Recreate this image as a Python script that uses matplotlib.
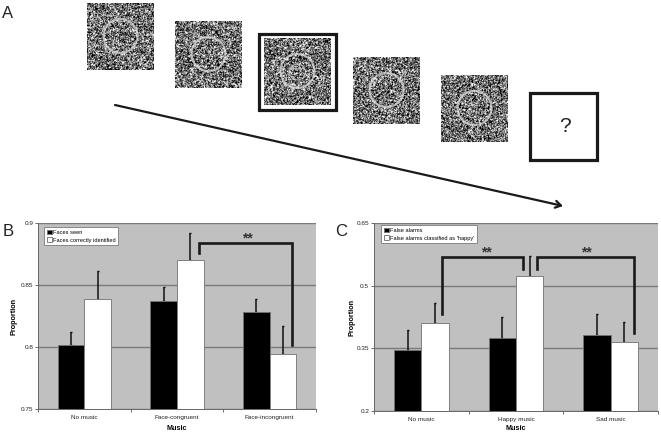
import numpy as np
import matplotlib
matplotlib.use('Agg')
import matplotlib.pyplot as plt
from matplotlib.patches import Circle, Rectangle

plt.rcParams['font.family'] = ['Liberation Sans', 'DejaVu Sans']

W, H = 661, 433

# panel B
b_cats = ['No music', 'Face-congruent', 'Face-incongruent']
b_seen = [0.802, 0.8374, 0.828]
b_seen_err = [0.0105, 0.0106, 0.0105]
b_correct = [0.839, 0.870, 0.794]
b_correct_err = [0.022, 0.022, 0.0226]
b_ticks = [0.75, 0.8, 0.85, 0.9]
b_ticklabels = ['0.75', '0.8', '0.85', '0.9']
b_legend = ['Faces seen', 'Faces correctly identified']

# panel C
c_cats = ['No music', 'Happy music', 'Sad music']
c_false = [0.345, 0.375, 0.381]
c_false_err = [0.0495, 0.050, 0.051]
c_happy = [0.411, 0.523, 0.364]
c_happy_err = [0.048, 0.048, 0.048]
c_ticks = [0.2, 0.35, 0.5, 0.65]
c_ticklabels = ['0.2', '0.35', '0.5', '0.65']
c_legend = ['False alarms', "False alarms classified as 'happy'"]


def px_axes(x0, y0, x1, y1, **kw):
    # axes placed by pixel box, y counted from the top
    return fig.add_axes([x0 / W, 1 - y1 / H, (x1 - x0) / W, (y1 - y0) / H], **kw)


def panel(box, cats, black, black_err, white, white_err, ticks, ticklabels, labels, leg_box, ylab_x):
    ax = px_axes(*box)
    ax.set_facecolor('#c0c0c0')
    x = np.arange(len(cats))
    w = 0.287
    b1 = ax.bar(x - w / 2, black, w, color='black', edgecolor='#707070', lw=0.7, zorder=3, label=labels[0])
    b2 = ax.bar(x + w / 2, white, w, color='white', edgecolor='#808080', lw=0.7, zorder=3, label=labels[1])
    ax.errorbar(x - w / 2, black, yerr=[np.zeros(3), black_err], fmt='none', ecolor='#111111',
                elinewidth=1.1, capsize=0.9, capthick=1, zorder=2)
    ax.errorbar(x + w / 2, white, yerr=[np.zeros(3), white_err], fmt='none', ecolor='#111111',
                elinewidth=1.1, capsize=0.9, capthick=1, zorder=2)
    ax.set_xlim(-0.5, 2.5)
    ax.set_ylim(ticks[0], ticks[-1])
    ax.set_yticks(ticks)
    ax.set_yticklabels(ticklabels, fontsize=4.6, color='#222222')
    ax.set_xticks([0.5, 1.5, 2.5, -0.5])
    ax.set_xticklabels([])
    for i, c in enumerate(cats):
        ax.text(i, -0.047, c, transform=ax.get_xaxis_transform(), ha='center', va='center',
                fontsize=4.6, color='#222222')
    ax.grid(axis='y', color='#7a7a7a', lw=1, zorder=1)
    ax.tick_params(length=2, width=0.6, color='#555555', pad=1.5)
    for s in ['top', 'right']:
        ax.spines[s].set_visible(False)
    for s in ['left', 'bottom']:
        ax.spines[s].set_color('#666666')
        ax.spines[s].set_linewidth(0.7)
    ax.set_xlabel('Music', fontsize=5.2, fontweight='bold')
    ax.xaxis.set_label_coords(0.5, -(425 - box[3]) / (box[3] - box[1]))
    ax.set_ylabel('Proportion', fontsize=5.2, fontweight='bold')
    ax.yaxis.set_label_coords((ylab_x + 2 - box[0]) / (box[2] - box[0]), 0.5)
    lx, ly = leg_box
    leg = ax.legend(handles=[b1, b2], loc='upper left', fontsize=4.1, frameon=True, fancybox=False,
                    facecolor='white', edgecolor='#888888', framealpha=1, borderpad=0.45, labelspacing=0.45,
                    handlelength=0.9, handleheight=0.9, handletextpad=0.2, borderaxespad=0,
                    bbox_to_anchor=(lx / W, 1 - ly / H), bbox_transform=fig.transFigure)
    leg.get_frame().set_linewidth(0.7)
    leg.set_zorder(6)
    return ax


def noise_square(x0, y0, size, idx):
    # static-like texture from a fixed hash of the cell index
    n = int(size * 1.5)
    jj, ii = np.meshgrid(np.arange(n), np.arange(n))
    v = np.sin((ii + idx * 37) * 12.9898 + (jj + idx * 11) * 78.233) * 43758.5453
    img = (v - np.floor(v)) > 0.55
    over.imshow(img.astype(float), cmap='gray', vmin=0.0, vmax=1.0, extent=[x0, x0 + size, y0 + size, y0],
                interpolation='bilinear', zorder=2, aspect='auto')


fig = plt.figure(figsize=(W / 100, H / 100), dpi=100, facecolor='white')

panel((38, 223, 316, 409), b_cats, b_seen, b_seen_err, b_correct, b_correct_err,
      b_ticks, b_ticklabels, b_legend, (44, 227), 16)
panel((374, 223, 658, 411), c_cats, c_false, c_false_err, c_happy, c_happy_err,
      c_ticks, c_ticklabels, c_legend, (381, 225), 353)

# overlay in pixel coordinates for the stimulus row, arrow and brackets
over = fig.add_axes([0, 0, 1, 1], facecolor='none')
for i, (x0, y0) in enumerate([(87, 3), (175, 21), (264, 38), (353, 57), (441, 75)]):
    noise_square(x0, y0, 67, i)
    over.add_patch(Circle((x0 + 33.5, y0 + 33), 17, fill=False, ec='#dcdcdc', lw=1.5, alpha=0.75, zorder=3))
    if i == 2:
        over.add_patch(Circle((x0 + 33.5, y0 + 34), 8, fill=False, ec='#d0d0d0', lw=1, alpha=0.7, zorder=3))
        over.plot([x0 + 28, x0 + 39], [y0 + 30, y0 + 30], color='#d0d0d0', lw=1, alpha=0.7, zorder=3)

over.add_patch(Rectangle((259, 34), 77, 76, fill=False, ec='#1a1a1a', lw=2.3, zorder=4))
over.add_patch(Rectangle((530, 92.5), 67, 67, fill=False, ec='#1a1a1a', lw=2.3, zorder=4))
over.text(564.5, 127, '?', fontsize=15, ha='center', va='center', color='#222222')
over.annotate('', xy=(563, 206), xytext=(115, 105),
              arrowprops=dict(arrowstyle='->,head_length=0.4,head_width=0.25', color='#1a1a1a', lw=1.6,
                              shrinkA=0, shrinkB=0))

for xs, ys in [([199, 199, 292, 292], [253, 243, 243, 345]),
               ([442, 442, 523, 523], [314, 257, 257, 269]),
               ([537, 537, 634, 634], [269, 257, 257, 333])]:
    over.plot(xs, ys, color='#1a1a1a', lw=1.9, solid_joinstyle='miter', zorder=5)
for x, y in [(247, 238), (486, 252), (586, 252)]:
    over.text(x, y, '**', fontsize=10, fontweight='bold', ha='center', va='center', color='#333333', zorder=5)

for s, x, y in [('A', 8, 13), ('B', 8, 232), ('C', 341, 232)]:
    over.text(x, y, s, fontsize=12, ha='center', va='center', color='#222222')

over.set_xlim(0, W)
over.set_ylim(H, 0)
over.axis('off')

fig.savefig('out.png', dpi=100)
